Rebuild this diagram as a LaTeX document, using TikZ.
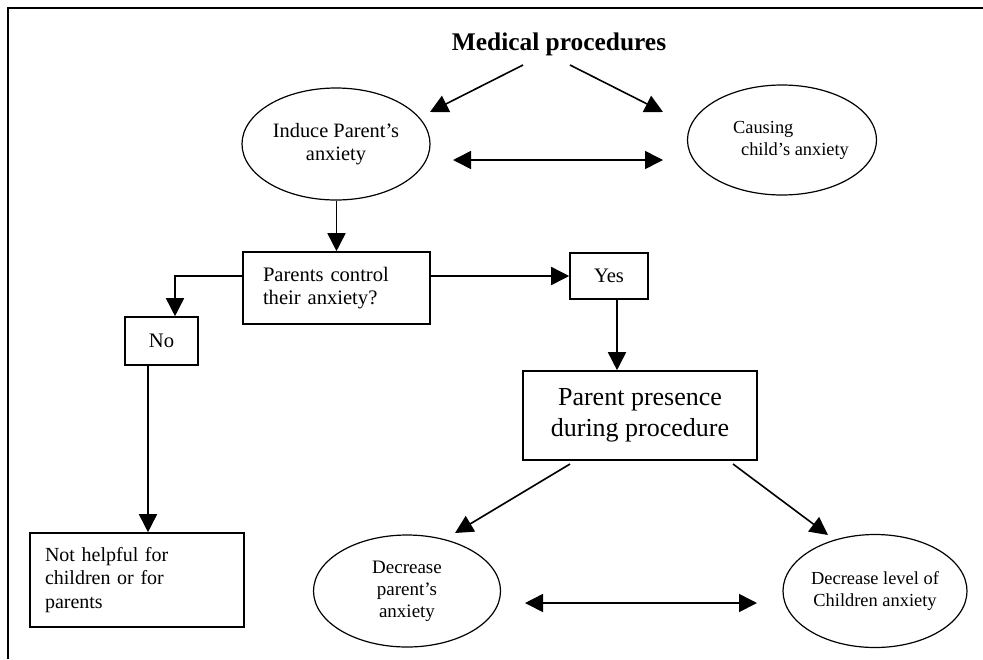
\documentclass[tikz,border=0pt]{standalone}
\usepackage{fontspec}
\setmainfont{Liberation Serif}
\usetikzlibrary{arrows.meta,shapes.geometric}
\tikzset{
  arr/.style={line width=0.8pt,-{Triangle[length=9pt,width=9pt]}},
  dblarr/.style={line width=0.8pt,{Triangle[length=9pt,width=9pt]}-{Triangle[length=9pt,width=9pt]}},
  oval/.style={draw,ellipse,line width=0.6pt,inner sep=-4pt,align=center},
  box/.style={draw,rectangle,line width=0.8pt,inner sep=0pt},
}
\begin{document}
\begin{tikzpicture}[x=0.5pt,y=-0.5pt]
\useasboundingbox (0,0) rectangle (983,659);
% frame
\draw[line width=0.8pt] (8,659) -- (8,8) -- (983,8);

% title
\node[font=\fontsize{12.7}{15}\selectfont\bfseries] (title) at (559,44) {Medical procedures};

% top ellipses
\node[oval,minimum width=94pt,minimum height=56pt,font=\fontsize{10.2}{11.5}\selectfont] (ip) at (336,144) {Induce Parent's\\anxiety};
\node[oval,minimum width=94.5pt,minimum height=55pt,font=\fontsize{9.2}{11}\selectfont,align=left] (cc) at (782,140) {\hspace*{9pt}Causing\\\hspace*{13pt}child's anxiety};

% boxes
\node[box,text width=73.5pt,inner xsep=10pt,minimum height=36pt,align=left,font=\fontsize{10.3}{11.5}\selectfont] (pc) at (336.5,288) {Parents control\\their anxiety?};
\node[box,minimum width=39pt,minimum height=23pt,font=\fontsize{10.3}{12}\selectfont] (yes) at (609,276) {Yes};
\node[box,minimum width=36.5pt,minimum height=24pt,font=\fontsize{10.3}{12}\selectfont] (no) at (161.5,341) {No};
\node[box,text width=92pt,inner xsep=7.5pt,minimum height=47pt,align=left,font=\fontsize{10}{11.7}\selectfont] (nh) at (137,580) {Not helpful for\\children or for\\parents};
\node[box,minimum width=117pt,minimum height=44.5pt,align=center,font=\fontsize{13}{15.5}\selectfont] (pp) at (640,415.5) {Parent presence\\during procedure};

% bottom ellipses
\node[oval,minimum width=93.5pt,minimum height=56pt,font=\fontsize{9.5}{11}\selectfont] (dp) at (407,591) {Decrease\\parent's\\anxiety};
\node[oval,minimum width=92pt,minimum height=56.5pt,font=\fontsize{9.2}{10.7}\selectfont] (dc) at (875,591) {Decrease level of\\Children anxiety};

% free arrow ends
\coordinate (t1) at (523,65);
\coordinate (t1e) at (430,112);
\coordinate (t2) at (570,65);
\coordinate (t2e) at (663,112);
\coordinate (d1) at (453,160);
\coordinate (d1e) at (663,160);
\coordinate (p1) at (570,464);
\coordinate (p1e) at (455,533);
\coordinate (p2) at (733,464);
\coordinate (p2e) at (828,535);
\coordinate (d2) at (525,603);
\coordinate (d2e) at (757,603);

% connectors
\draw[arr] (t1) -- (t1e);
\draw[arr] (t2) -- (t2e);
\draw[dblarr] (d1) -- (d1e);
\draw[arr] (pc.north |- ip.south) -- (pc.north);
\draw[arr] (pc.east |- yes.west) -- (yes.west);
\draw[arr] (pc.west |- yes.west) -| ([xshift=6.75pt]no.north);
\draw[arr] ([xshift=-6.75pt]no.south) -- ([xshift=-6.75pt]no.south |- nh.north);
\draw[arr] ([xshift=4pt]yes.south) -- ([xshift=4pt]yes.south |- pp.north);
\draw[arr] (p1) -- (p1e);
\draw[arr] (p2) -- (p2e);
\draw[dblarr] (d2) -- (d2e);
\end{tikzpicture}
\end{document}
